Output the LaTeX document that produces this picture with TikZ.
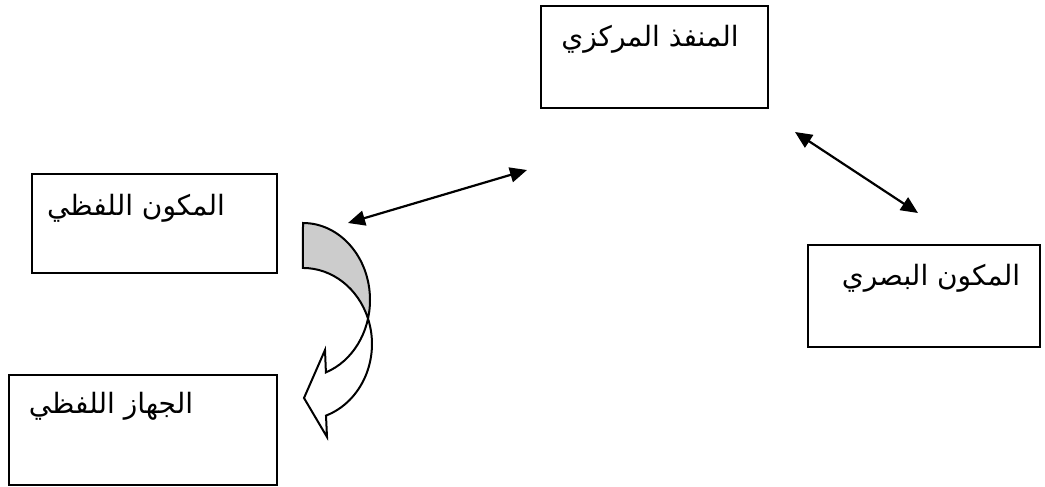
\documentclass[tikz,border=0pt]{standalone}
\usepackage{fontspec}
\newfontfamily\arabicfont[Script=Arabic]{DejaVu Sans}
\TeXXeTstate=1
\usetikzlibrary{arrows.meta,positioning}
\tikzset{
box/.style={draw,line width=1.5pt,inner sep=0pt},
caption/.style={inner sep=0pt,anchor=base,font=\arabicfont\fontsize{28}{32}\selectfont},
link/.style={{Triangle[length=17pt,width=15pt]}-{Triangle[length=17pt,width=15pt]},line width=2.2pt},
backface/.style={fill=black!20,draw=none},
bent/.style={draw,line width=2pt,line join=miter}
}

\begin{document}
\begin{tikzpicture}[x=1pt,y=-1pt]
\useasboundingbox (0,0) rectangle (1045,487);
\node[box,minimum width=227pt,minimum height=102pt](central) at (654.5,57){};
\node[box,minimum width=245pt,minimum height=99pt](verbal) at (154.5,223.5){};
\node[box,minimum width=268pt,minimum height=110pt](organ) at (143,430){};
\node[box,minimum width=232pt,minimum height=102pt](visual) at (924,296){};
\node[caption](centraltxt) at (650,47){\beginR المنفذ المركزي\endR};
\node[caption](verbaltxt) at (136,215){\beginR المكون اللفظي\endR};
\node[caption](organtxt) at (111,413){\beginR الجهاز اللفظي\endR};
\node[caption](visualtxt) at (931,285){\beginR المكون البصري\endR};
\coordinate (verbaltip) at (348,223);
\coordinate (centraltipl) at (527,170);
\coordinate (centraltipr) at (795,132);
\coordinate (visualtip) at (918,213);
\draw[link](verbaltip)--(centraltipl);\draw[link](centraltipr)--(visualtip);
\fill[backface](303,223) arc[start angle=-90,end angle=14.3,x radius=67,y radius=77] arc[start angle=-19.2,end angle=-90,x radius=69,y radius=76] -- cycle;
\draw[bent](303,223) arc[start angle=-90,end angle=70,x radius=67,y radius=77] -- (325,350) -- (304,398) -- (327,437) -- (326,415.6) arc[start angle=70.5,end angle=-90,x radius=69,y radius=76] -- cycle;
\end{tikzpicture}
\end{document}
